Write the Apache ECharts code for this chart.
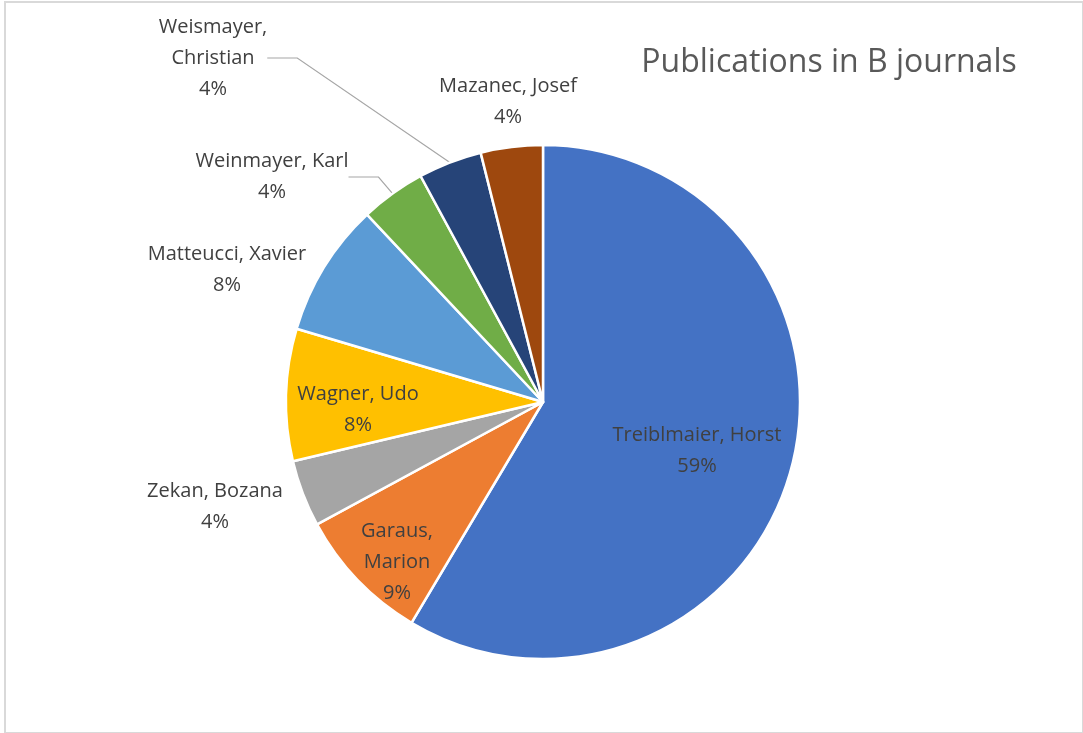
<!DOCTYPE html>
<html>
<head>
<meta charset="utf-8">
<script src="https://cdn.jsdelivr.net/npm/echarts@6/dist/echarts.min.js"></script>
<style>
  html, body { margin: 0; padding: 0; background: #ffffff; }
  #chart { position: absolute; left: 0; top: 0; width: 1083px; height: 733px; }
  #frame { position: absolute; left: 4px; top: 1px; width: 1076px; height: 729px; border: 2px solid #d9d9d9; pointer-events: none; }
</style>
</head>
<body>
<div id="chart"></div>
<div id="frame"></div>
<script>
// ---- data (shares; labels round to the printed percentages) ----
const names = ['Treiblmaier, Horst', 'Garaus, Marion', 'Zekan, Bozana', 'Wagner, Udo',
               'Matteucci, Xavier', 'Weinmayer, Karl', 'Weismayer, Christian', 'Mazanec, Josef'];
const values = [58.55, 8.55, 4.2, 8.3, 8.4, 4.1, 4.0, 3.9];
const labelNames = ['Treiblmaier, Horst', 'Garaus,\nMarion', 'Zekan, Bozana', 'Wagner, Udo',
                    'Matteucci, Xavier', 'Weinmayer, Karl', 'Weismayer,\nChristian', 'Mazanec, Josef'];
const title = 'Publications in B journals';

// ---- styling ----
const colors = ['#4472C4', '#ED7D31', '#A5A5A5', '#FFC000', '#5B9BD5', '#70AD47', '#264478', '#9E480E'];
const labelPos = [
  [697, 451], [397, 562], [215, 507], [358, 410],
  [227, 270], [272, 177], [213, 58], [508, 102]
];
const withLeader = [false, false, false, false, false, true, true, false];

const chart = echarts.init(document.getElementById('chart'), null, { renderer: 'canvas' });

const data = names.map((n, i) => ({
  name: n,
  value: values[i],
  itemStyle: { color: colors[i] },
  label: { formatter: labelNames[i] + '\n{d}%' },
  labelLine: { show: withLeader[i] }
}));

chart.setOption({
  animation: false,
  title: {
    text: title,
    left: 824,
    top: 42,
    textAlign: 'center',
    textStyle: { fontFamily: 'Open Sans', fontSize: 32, fontWeight: 'normal', color: '#595959' }
  },
  series: [{
    type: 'pie',
    center: [543, 402],
    radius: [0, 257],
    startAngle: 90,
    clockwise: true,
    percentPrecision: 0,
    data: data,
    itemStyle: { borderColor: '#ffffff', borderWidth: 2.5 },
    label: {
      show: true,
      position: 'outside',
      fontFamily: 'Open Sans',
      fontSize: 20,
      lineHeight: 31,
      color: '#404040',
      align: 'center'
    },
    labelLine: {
      show: false,
      lineStyle: { color: '#a6a6a6', width: 1.2 }
    },
    labelLayout: function (params) {
      const p = labelPos[params.dataIndex];
      return { x: p[0], y: p[1], align: 'center', verticalAlign: 'middle', hideOverlap: false };
    },
    emphasis: { disabled: true }
  }]
});
</script>
</body>
</html>
